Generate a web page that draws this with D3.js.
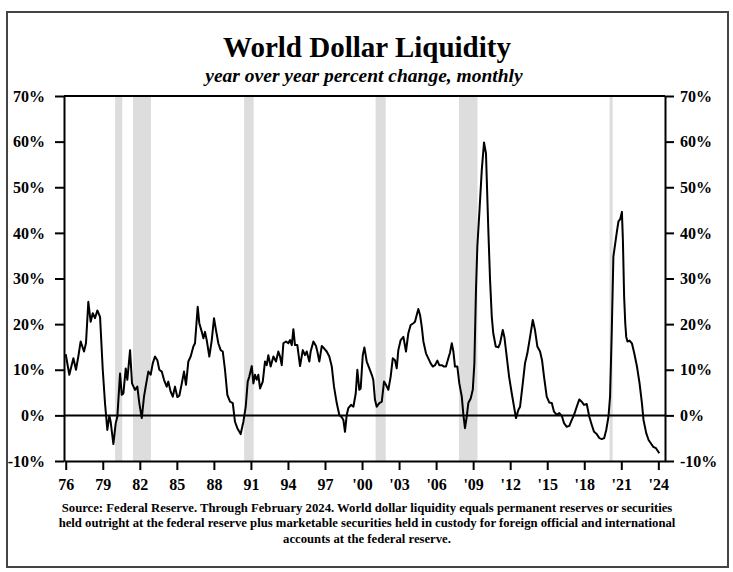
<!DOCTYPE html>
<html>
<head>
<meta charset="utf-8">
<script src="https://cdn.jsdelivr.net/npm/d3@7"></script>
<style>
  html, body { margin: 0; padding: 0; background: #fff; }
  svg { display: block; }
  text { font-family: "Liberation Serif", "Times New Roman", serif; font-weight: bold; fill: #000; }
</style>
</head>
<body>
<svg id="chart" width="733" height="572"></svg>
<script>
// ---- data ----
const years = [
  1976.00,1976.29,1976.62,1976.83,1977.02,1977.21,1977.48,1977.64,1977.83,1978.02,1978.19,1978.37,1978.56,1978.78,
  1979.00,1979.18,1979.37,1979.53,1979.64,1979.86,1980.05,1980.18,1980.40,1980.54,1980.67,1980.86,1980.99,
  1981.21,1981.37,1981.61,1981.80,1981.96,1982.16,1982.34,1982.50,1982.69,1982.88,1983.05,1983.23,1983.42,
  1983.58,1983.78,1983.96,1984.18,1984.31,1984.50,1984.67,1984.85,1985.04,1985.20,1985.40,1985.58,1985.74,
  1985.93,1986.12,1986.34,1986.47,1986.69,1986.82,1987.02,1987.15,1987.28,1987.42,1987.63,1987.83,1988.01,
  1988.17,1988.36,1988.55,1988.72,1988.90,1989.09,1989.31,1989.53,1989.71,1989.90,1990.17,1990.39,1990.58,
  1990.74,1990.87,1991.07,1991.20,1991.33,1991.47,1991.60,1991.74,1991.96,1992.14,1992.28,1992.41,1992.60,
  1992.82,1993.03,1993.22,1993.36,1993.50,1993.63,1993.84,1994.03,1994.17,1994.31,1994.44,1994.57,1994.76,
  1994.98,1995.20,1995.38,1995.52,1995.73,1995.84,1996.06,1996.27,1996.38,1996.54,1996.74,1996.92,1997.14,
  1997.35,1997.55,1997.73,1997.95,1998.16,1998.36,1998.49,1998.62,1998.76,1998.89,1999.11,1999.30,1999.49,
  1999.62,1999.78,1999.89,2000.06,2000.19,2000.38,2000.59,2000.79,2000.91,2001.05,2001.19,2001.40,2001.60,
  2001.78,2001.94,2002.13,2002.32,2002.49,2002.67,2002.81,2002.94,2003.13,2003.35,2003.56,2003.75,2003.94,
  2004.16,2004.29,2004.43,2004.56,2004.70,2004.84,2004.97,2005.18,2005.37,2005.56,2005.73,2005.91,2006.10,
  2006.26,2006.46,2006.64,2006.80,2006.99,2007.13,2007.27,2007.40,2007.53,2007.72,2007.88,2008.08,2008.21,
  2008.34,2008.48,2008.61,2008.80,2008.97,2009.10,2009.23,2009.34,2009.50,2009.70,2009.88,2010.04,2010.23,
  2010.37,2010.51,2010.63,2010.83,2011.04,2011.18,2011.40,2011.53,2011.72,2011.91,2012.13,2012.31,2012.47,
  2012.66,2012.80,2013.02,2013.20,2013.39,2013.61,2013.83,2014.01,2014.20,2014.42,2014.58,2014.74,2014.96,
  2015.17,2015.37,2015.55,2015.77,2015.98,2016.18,2016.36,2016.58,2016.79,2016.99,2017.17,2017.39,2017.60,
  2017.79,2017.98,2018.20,2018.41,2018.61,2018.79,2019.01,2019.23,2019.42,2019.61,2019.78,2019.96,2020.09,
  2020.23,2020.36,2020.64,2020.77,2020.91,2021.05,2021.13,2021.23,2021.32,2021.40,2021.50,2021.67,2021.86,
  2022.05,2022.27,2022.48,2022.67,2022.80,2023.02,2023.21,2023.39,2023.59,2023.81,2024.08
];
const liquidity = [
  13.4,8.9,12.5,10.0,12.9,16.2,14.0,15.8,24.9,20.5,22.4,21.3,23.0,21.6,
  10.0,2.7,-3.2,-0.1,-1.4,-6.3,-1.7,-0.3,9.2,4.5,4.8,10.3,7.8,
  14.3,7.0,5.6,6.3,2.7,-0.6,4.1,6.7,9.6,8.9,11.4,12.9,12.1,
  10.0,9.6,7.8,6.3,7.4,5.2,4.1,6.3,4.0,4.3,7.0,9.6,6.7,
  11.8,12.9,15.1,15.8,23.8,20.2,18.3,16.9,18.3,16.5,12.9,16.5,21.3,
  18.7,15.8,14.3,14.0,10.0,4.5,3.0,2.7,-1.4,-2.8,-4.1,-1.4,1.9,
  7.4,8.5,10.8,7.0,8.9,7.8,8.9,5.9,7.4,11.8,11.0,13.2,10.7,
  12.9,11.8,14.0,12.9,11.0,15.8,16.2,15.8,16.5,15.4,18.9,15.4,15.4,
  10.8,14.3,13.2,14.0,11.8,14.0,16.2,15.2,14.0,11.8,15.2,14.7,14.0,
  12.9,10.7,6.3,2.7,0.1,-0.4,-1.0,-3.6,0.1,1.6,2.3,1.9,4.8,
  10.0,5.6,5.9,13.2,14.9,11.8,10.3,8.9,7.8,3.4,1.9,2.7,3.0,
  7.4,6.7,5.6,8.5,12.5,12.1,10.3,14.3,16.5,17.2,14.0,18.0,19.8,
  20.2,20.5,22.0,23.3,22.0,19.4,16.2,13.6,12.5,11.4,10.7,11.0,12.0,
  11.0,11.0,10.7,10.7,12.5,13.8,15.8,14.0,10.7,10.7,7.0,4.1,0.1,
  -2.8,-0.3,2.7,3.7,5.6,11.4,27.5,37.0,44.3,53.8,59.8,57.4,40.6,
  29.7,21.6,18.0,15.1,14.9,15.8,18.7,17.2,12.9,8.5,4.8,1.9,-0.6,
  1.2,1.9,7.0,11.4,13.6,17.2,20.9,18.7,15.1,14.0,12.1,8.5,4.1,
  2.8,2.7,0.8,0.1,0.5,-0.1,-1.7,-2.5,-2.3,-1.0,0.1,1.9,3.5,
  3.0,2.3,2.5,-0.3,-2.1,-3.6,-4.1,-5.0,-5.2,-5.0,-3.2,-0.3,4.1,
  18.7,34.8,40.2,42.5,43.0,44.6,38.4,26.0,20.2,17.2,16.2,16.4,15.8,
  13.6,10.7,7.0,2.7,-1.0,-3.9,-5.4,-6.1,-6.9,-7.2,-8.3
];
const recessionStart = [1980.00, 1981.45, 1990.45, 2001.10, 2007.85, 2020.05];
const recessionEnd   = [1980.58, 1982.90, 1991.22, 2001.92, 2009.35, 2020.30];
const xTickYears  = [1976,1979,1982,1985,1988,1991,1994,1997,2000,2003,2006,2009,2012,2015,2018,2021,2024];
const xTickLabels = ["76","79","82","85","88","91","94","97","'00","'03","'06","'09","'12","'15","'18","'21","'24"];
const yTicks = [-10,0,10,20,30,40,50,60,70];
const titleText = "World Dollar Liquidity";
const subtitleText = "year over year percent change, monthly";
const sourceLines = [
  "Source: Federal Reserve. Through February 2024. World dollar liquidity equals permanent reserves or securities",
  "held outright at the federal reserve plus marketable securities held in custody for foreign official and international",
  "accounts at the federal reserve."
];

// ---- drawing ----
const svg = d3.select("#chart");
const L = 64, R = 665, T = 96, B = 461;

const x = d3.scaleLinear().domain([1975.86, 2024.54]).range([L, R]);
const y = d3.scaleLinear().domain([-10, 70]).range([B, T]);

// frame
svg.append("rect").attr("x", 7).attr("y", 12).attr("width", 721).attr("height", 555)
  .attr("fill", "none").attr("stroke", "#444").attr("stroke-width", 2);

// title
svg.append("text").attr("x", 367).attr("y", 56.5).attr("text-anchor", "middle")
  .style("font-size", "29px").text(titleText);
svg.append("text").attr("x", 364).attr("y", 82).attr("text-anchor", "middle")
  .style("font-size", "19.5px").style("font-style", "italic").text(subtitleText);

// recession bands
const bands = recessionStart.map((s, i) => [s, recessionEnd[i]]);
svg.append("g").selectAll("rect").data(bands).join("rect")
  .attr("x", d => x(d[0])).attr("y", T)
  .attr("width", d => x(d[1]) - x(d[0])).attr("height", B - T)
  .attr("fill", "#dddddd");

// zero line
svg.append("line").attr("x1", L).attr("x2", R).attr("y1", y(0)).attr("y2", y(0))
  .attr("stroke", "#000").attr("stroke-width", 2);

// series line
const pts = years.map((yr, i) => [yr, liquidity[i]]);
svg.append("path").datum(pts)
  .attr("fill", "none").attr("stroke", "#000").attr("stroke-width", 2)
  .attr("stroke-linejoin", "round")
  .attr("d", d3.line().x(d => x(d[0])).y(d => y(d[1])));

// top border
svg.append("line").attr("x1", L).attr("x2", R).attr("y1", T).attr("y2", T)
  .attr("stroke", "#000").attr("stroke-width", 2);

// axes
function styleAxis(g, size) {
  g.select(".domain").attr("stroke", "#000").attr("stroke-width", 2);
  g.selectAll(".tick line").attr("stroke", "#000").attr("stroke-width", 2);
  g.selectAll(".tick text").style("font-size", size)
    .style("font-family", '"Liberation Serif", "Times New Roman", serif').style("font-weight", "bold");
}
const fmtPct = d => d + "%";
const gl = svg.append("g").attr("transform", `translate(${L},0)`)
  .call(d3.axisLeft(y).tickValues(yTicks).tickFormat(fmtPct).tickSize(9).tickSizeOuter(0).tickPadding(10));
styleAxis(gl, "16px");
const gr = svg.append("g").attr("transform", `translate(${R},0)`)
  .call(d3.axisRight(y).tickValues(yTicks).tickFormat(fmtPct).tickSize(9).tickSizeOuter(0).tickPadding(6));
styleAxis(gr, "16px");
const gb = svg.append("g").attr("transform", `translate(0,${B})`)
  .call(d3.axisBottom(x).tickValues(xTickYears).tickFormat((d, i) => xTickLabels[i]).tickSize(9).tickSizeOuter(0).tickPadding(9));
styleAxis(gb, "16px");

// source
svg.append("g").selectAll("text").data(sourceLines).join("text")
  .attr("x", 367).attr("y", (d, i) => 511.5 + i * 15.5).attr("text-anchor", "middle")
  .style("font-size", "12.7px").text(d => d);
</script>
</body>
</html>
